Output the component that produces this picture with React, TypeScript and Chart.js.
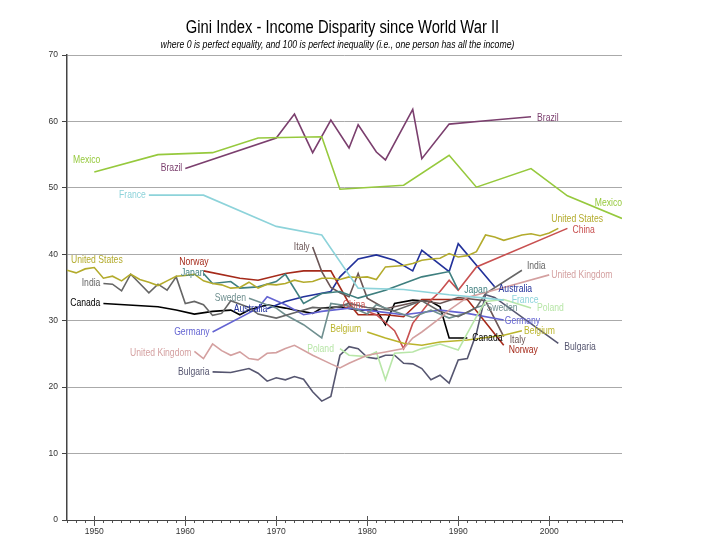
import { useEffect, useRef } from 'react';
import { Chart, registerables } from 'chart.js';

Chart.register(...registerables);

const FONT = "'Liberation Sans', Arial, sans-serif";
const NARROW = 0.82; // horizontal squeeze to imitate a narrow sans face

const TITLE = 'Gini Index - Income Disparity since World War II';
const SUBTITLE = 'where 0 is perfect equality, and 100 is perfect inequality (i.e., one person has all the income)';

const X_MIN = 1947;
const X_MAX = 2008;
const Y_TICKS = [0, 10, 20, 30, 40, 50, 60, 70];
const DECADES = [1950, 1960, 1970, 1980, 1990, 2000];

type P = [number, number];

const mexico: P[] = [[1950, 52.4], [1957, 55.0], [1963, 55.3], [1968, 57.5], [1975, 57.7], [1977, 49.8], [1984, 50.4], [1989, 54.9], [1992, 50.1], [1998, 52.9], [2002, 48.8], [2008, 45.4]];
const brazil: P[] = [[1960, 52.9], [1970, 57.5], [1972, 61.1], [1974, 55.3], [1976, 60.2], [1978, 56.0], [1979, 59.5], [1981, 55.4], [1982, 54.2], [1985, 61.8], [1986, 54.4], [1989, 59.6], [1993, 60.1], [1998, 60.7]];
const france: P[] = [[1956, 48.9], [1962, 48.9], [1970, 44.2], [1975, 42.9], [1979, 34.9], [1984, 34.7], [1989, 33.9], [1993, 33.4], [1995, 33.1]];
const unitedStates: P[] = [[1947, 37.6], [1948, 37.2], [1949, 37.8], [1950, 38.0], [1951, 36.4], [1952, 36.7], [1953, 36.0], [1954, 37.0], [1955, 36.2], [1956, 35.8], [1957, 35.3], [1958, 36.0], [1959, 36.7], [1960, 36.8], [1961, 37.0], [1962, 36.0], [1963, 35.6], [1964, 35.4], [1965, 34.9], [1966, 35.0], [1967, 35.8], [1968, 34.9], [1969, 35.5], [1970, 35.4], [1971, 35.6], [1972, 36.1], [1973, 35.8], [1974, 35.9], [1975, 36.4], [1976, 36.4], [1977, 36.2], [1978, 36.6], [1979, 36.5], [1980, 36.6], [1981, 36.2], [1982, 38.1], [1983, 38.2], [1984, 38.3], [1985, 38.6], [1986, 39.1], [1987, 39.3], [1988, 39.4], [1989, 40.1], [1990, 39.6], [1991, 39.8], [1992, 40.4], [1993, 42.9], [1994, 42.6], [1995, 42.1], [1996, 42.5], [1997, 42.9], [1998, 43.1], [1999, 42.8], [2000, 43.2], [2001, 43.9]];
const china: P[] = [[1980, 31.4], [1981, 30.9], [1983, 28.5], [1984, 25.8], [1985, 29.6], [1987, 33.1], [1988, 34.4], [1989, 36.1], [1990, 34.6], [1992, 38.1], [2002, 43.9]];
const india: P[] = [[1951, 35.6], [1952, 35.5], [1953, 34.5], [1954, 37.0], [1955, 35.6], [1956, 34.2], [1957, 35.5], [1958, 34.6], [1959, 36.6], [1960, 32.6], [1961, 32.9], [1962, 32.4], [1963, 30.8], [1964, 31.1], [1965, 33.0], [1967, 32.0], [1968, 31.0], [1970, 30.4], [1972, 31.2], [1974, 32.0], [1976, 31.8], [1978, 32.6], [1980, 32.0], [1983, 31.5], [1986, 33.0], [1988, 31.4], [1990, 30.6], [1992, 32.0], [1993, 34.1], [1997, 37.6]];
const canada: P[] = [[1951, 32.6], [1957, 32.1], [1959, 31.6], [1961, 31.0], [1963, 31.4], [1965, 31.6], [1966, 30.9], [1967, 31.6], [1969, 32.4], [1971, 31.9], [1972, 31.6], [1974, 31.1], [1975, 31.9], [1977, 32.1], [1979, 31.6], [1981, 31.6], [1982, 29.4], [1983, 32.6], [1985, 33.1], [1987, 32.9], [1988, 32.1], [1989, 27.4], [1991, 27.4]];
const japan: P[] = [[1962, 37.1], [1963, 35.6], [1965, 35.9], [1966, 34.9], [1968, 35.1], [1970, 35.9], [1971, 37.0], [1973, 32.6], [1975, 34.1], [1977, 34.4], [1979, 33.4], [1982, 34.6], [1984, 35.6], [1986, 36.6], [1989, 37.4], [1990, 34.6]];
const sweden: P[] = [[1967, 33.4], [1970, 31.9], [1971, 30.9], [1973, 29.4], [1975, 27.4], [1976, 32.6], [1978, 32.2], [1980, 31.0], [1981, 32.4], [1983, 31.4], [1985, 30.5], [1987, 31.6], [1989, 30.4], [1991, 31.2], [1992, 32.0], [1993, 32.4]];
const australia: P[] = [[1969, 31.8], [1971, 32.9], [1973, 33.6], [1976, 34.4], [1977, 36.6], [1979, 39.3], [1981, 39.9], [1983, 39.1], [1984, 38.3], [1985, 37.5], [1986, 40.6], [1989, 37.4], [1990, 41.6], [1994, 35.1]];
const germany: P[] = [[1963, 28.3], [1968, 31.9], [1969, 33.6], [1971, 32.4], [1973, 30.9], [1975, 31.4], [1978, 31.9], [1981, 31.4], [1984, 30.9], [1988, 31.6], [1991, 31.1], [1995, 30.1]];
const unitedKingdom: P[] = [[1961, 25.4], [1962, 24.3], [1963, 26.5], [1964, 25.5], [1965, 24.8], [1966, 25.3], [1967, 24.3], [1968, 24.1], [1969, 25.1], [1970, 25.2], [1971, 25.8], [1972, 26.3], [1974, 24.8], [1976, 23.5], [1977, 22.9], [1978, 23.6], [1980, 24.8], [1982, 25.3], [1984, 25.8], [1985, 27.4], [1986, 28.3], [1988, 30.4], [1989, 31.6], [1991, 33.5], [1995, 35.0], [2000, 36.9]];
const bulgaria: P[] = [[1963, 22.3], [1965, 22.2], [1967, 22.8], [1968, 22.1], [1969, 20.9], [1970, 21.4], [1971, 21.1], [1972, 21.6], [1973, 21.2], [1974, 19.3], [1975, 17.9], [1976, 18.6], [1977, 24.8], [1978, 26.1], [1979, 25.8], [1980, 24.5], [1981, 24.3], [1982, 24.8], [1983, 24.8], [1984, 23.6], [1985, 23.5], [1986, 22.8], [1987, 21.1], [1988, 21.8], [1989, 20.6], [1990, 24.1], [1991, 24.3], [1992, 28.1], [1993, 33.9], [1994, 33.5], [2001, 26.6]];
const poland: P[] = [[1977, 25.8], [1978, 24.8], [1980, 24.6], [1981, 25.3], [1982, 21.1], [1983, 25.1], [1985, 25.3], [1986, 25.8], [1988, 26.5], [1990, 25.6], [1992, 30.6], [1993, 32.9], [1995, 33.2], [1998, 31.9]];
const belgium: P[] = [[1980, 28.3], [1982, 27.4], [1984, 26.6], [1986, 26.3], [1988, 26.8], [1991, 27.1], [1995, 27.8], [1997, 28.5]];
const italy: P[] = [[1974, 41.1], [1975, 37.4], [1976, 35.0], [1977, 34.2], [1978, 33.6], [1979, 37.1], [1980, 33.4], [1982, 31.8], [1984, 32.4], [1986, 33.0], [1988, 32.6], [1990, 33.5], [1993, 33.0], [1995, 27.6]];
const norway: P[] = [[1962, 37.5], [1966, 36.4], [1968, 36.1], [1971, 37.1], [1973, 37.5], [1976, 37.5], [1978, 32.6], [1979, 30.9], [1982, 30.9], [1984, 30.6], [1986, 33.2], [1991, 33.2], [1995, 26.3]];

const SERIES: { name: string; data: P[]; color: string }[] = [
  { name: 'Mexico', data: mexico, color: '#96c93d' },
  { name: 'Brazil', data: brazil, color: '#7b3f6e' },
  { name: 'France', data: france, color: '#8dd3da' },
  { name: 'United Kingdom', data: unitedKingdom, color: '#d4a0a0' },
  { name: 'Poland', data: poland, color: '#b8e6a8' },
  { name: 'Bulgaria', data: bulgaria, color: '#565670' },
  { name: 'Belgium', data: belgium, color: '#bab42c' },
  { name: 'United States', data: unitedStates, color: '#b3ab2c' },
  { name: 'India', data: india, color: '#666666' },
  { name: 'Sweden', data: sweden, color: '#6f8f8f' },
  { name: 'Japan', data: japan, color: '#3f7f7f' },
  { name: 'Germany', data: germany, color: '#6464d2' },
  { name: 'Italy', data: italy, color: '#6b5656' },
  { name: 'China', data: china, color: '#c85050' },
  { name: 'Norway', data: norway, color: '#a52a1a' },
  { name: 'Australia', data: australia, color: '#22319a' },
  { name: 'Canada', data: canada, color: '#000000' },
];

// label placement: which end of the line, text alignment, pixel offset
const LABELS: { name: string; at: 'start' | 'end'; align: 'left' | 'right'; dx: number; dy: number }[] = [
  { name: 'Mexico', at: 'start', align: 'right', dx: 6, dy: -12 },
  { name: 'Mexico', at: 'end', align: 'right', dx: 0, dy: -15 },
  { name: 'Brazil', at: 'start', align: 'right', dx: -3, dy: 0 },
  { name: 'Brazil', at: 'end', align: 'left', dx: 6, dy: 1 },
  { name: 'France', at: 'start', align: 'right', dx: -3, dy: 0 },
  { name: 'France', at: 'end', align: 'left', dx: 8, dy: 0 },
  { name: 'United States', at: 'start', align: 'left', dx: 4, dy: -10 },
  { name: 'United States', at: 'end', align: 'left', dx: -7, dy: -9 },
  { name: 'China', at: 'start', align: 'right', dx: -2, dy: -6 },
  { name: 'China', at: 'end', align: 'left', dx: 5, dy: 2 },
  { name: 'India', at: 'start', align: 'right', dx: -3, dy: 0 },
  { name: 'India', at: 'end', align: 'left', dx: 5, dy: -4 },
  { name: 'Canada', at: 'start', align: 'right', dx: -3, dy: 0 },
  { name: 'Canada', at: 'end', align: 'left', dx: 5, dy: 0 },
  { name: 'Japan', at: 'start', align: 'right', dx: 1, dy: 0 },
  { name: 'Japan', at: 'end', align: 'left', dx: 6, dy: 0 },
  { name: 'Sweden', at: 'start', align: 'right', dx: -3, dy: 0 },
  { name: 'Sweden', at: 'end', align: 'left', dx: 1, dy: 3 },
  { name: 'Australia', at: 'start', align: 'right', dx: 0, dy: 0 },
  { name: 'Australia', at: 'end', align: 'left', dx: 4, dy: 2 },
  { name: 'Germany', at: 'start', align: 'right', dx: -3, dy: 0 },
  { name: 'Germany', at: 'end', align: 'left', dx: 1, dy: 1 },
  { name: 'United Kingdom', at: 'start', align: 'right', dx: -3, dy: 2 },
  { name: 'United Kingdom', at: 'end', align: 'left', dx: 2, dy: 0 },
  { name: 'Bulgaria', at: 'start', align: 'right', dx: -3, dy: 0 },
  { name: 'Bulgaria', at: 'end', align: 'left', dx: 6, dy: 4 },
  { name: 'Poland', at: 'start', align: 'right', dx: -6, dy: 0 },
  { name: 'Poland', at: 'end', align: 'left', dx: 6, dy: 0 },
  { name: 'Belgium', at: 'start', align: 'right', dx: -6, dy: -3 },
  { name: 'Belgium', at: 'end', align: 'left', dx: 2, dy: 0 },
  { name: 'Italy', at: 'start', align: 'right', dx: -3, dy: 0 },
  { name: 'Italy', at: 'end', align: 'left', dx: 6, dy: 3 },
  { name: 'Norway', at: 'start', align: 'right', dx: 5, dy: -9 },
  { name: 'Norway', at: 'end', align: 'left', dx: 5, dy: 5 },
];

function narrowText(ctx: CanvasRenderingContext2D, text: string, x: number, y: number) {
  ctx.save();
  ctx.translate(x, y);
  ctx.scale(NARROW, 1);
  ctx.fillText(text, 0, 0);
  ctx.restore();
}

const headings = {
  id: 'headings',
  afterDraw(chart: any) {
    const ctx = chart.ctx as CanvasRenderingContext2D;
    const { left, right } = chart.chartArea;
    const cx = (left + right) / 2 - 2;
    ctx.save();
    ctx.fillStyle = '#000';
    ctx.textAlign = 'center';
    ctx.textBaseline = 'alphabetic';
    ctx.font = `18px ${FONT}`;
    narrowText(ctx, TITLE, cx, 33);
    ctx.font = `italic 10.6px ${FONT}`;
    narrowText(ctx, SUBTITLE, cx - 5, 48);
    ctx.restore();
  },
};

const seriesLabels = {
  id: 'seriesLabels',
  afterDatasetsDraw(chart: any) {
    const ctx = chart.ctx as CanvasRenderingContext2D;
    ctx.save();
    ctx.font = `10.5px ${FONT}`;
    ctx.textBaseline = 'middle';
    for (const l of LABELS) {
      const idx = SERIES.findIndex((s) => s.name === l.name);
      if (idx < 0) continue;
      const pts = chart.getDatasetMeta(idx).data;
      if (!pts.length) continue;
      const p = l.at === 'start' ? pts[0] : pts[pts.length - 1];
      ctx.fillStyle = SERIES[idx].color;
      ctx.textAlign = l.align;
      narrowText(ctx, l.name, p.x + l.dx, p.y + l.dy);
    }
    ctx.restore();
  },
};

const majorTicks = {
  id: 'majorTicks',
  afterDraw(chart: any) {
    const ctx = chart.ctx as CanvasRenderingContext2D;
    const xs = chart.scales.x;
    const bottom = chart.chartArea.bottom;
    ctx.save();
    ctx.strokeStyle = '#555';
    ctx.lineWidth = 1;
    for (const d of DECADES) {
      const x = Math.round(xs.getPixelForValue(d)) + 0.5;
      ctx.beginPath();
      ctx.moveTo(x, bottom - 4);
      ctx.lineTo(x, bottom + 6);
      ctx.stroke();
    }
    ctx.restore();
  },
};

export default function App() {
  const ref = useRef<HTMLCanvasElement | null>(null);
  useEffect(() => {
    if (!ref.current) return;
    const chart = new Chart(ref.current, {
      type: 'line',
      data: {
        datasets: SERIES.map((s) => ({
          label: s.name,
          data: s.data.map(([x, y]) => ({ x, y })),
          borderColor: s.color,
          backgroundColor: s.color,
          borderWidth: 1.6,
          pointRadius: 0,
          tension: 0,
          fill: false,
        })),
      },
      options: {
        responsive: false,
        animation: false,
        events: [],
        layout: { padding: { left: 0, right: 98, top: 55, bottom: 0 } },
        plugins: {
          legend: { display: false },
          tooltip: { enabled: false },
          title: { display: false },
        },
        scales: {
          x: {
            type: 'linear',
            min: X_MIN,
            max: X_MAX,
            afterFit: (s: any) => { s.height = 20; },
            ticks: {
              stepSize: 1,
              autoSkip: false,
              maxRotation: 0,
              callback: (v: any) => (DECADES.includes(Number(v)) ? String(v) : ''),
              color: '#333',
              font: { family: FONT, size: 8.5 },
              padding: 4,
            },
            grid: { drawOnChartArea: false, drawTicks: true, tickLength: 3, color: '#555' },
            border: { color: '#444', width: 1 },
          },
          y: {
            min: 0,
            max: 70,
            afterFit: (s: any) => { s.width = 67; },
            afterBuildTicks: (s: any) => { s.ticks = Y_TICKS.map((v) => ({ value: v })); },
            ticks: { color: '#333', font: { family: FONT, size: 8.5 }, padding: 4 },
            grid: { color: '#aaaaaa', tickLength: 5, tickColor: '#444', lineWidth: 1 },
            border: { color: '#444', width: 1.5 },
          },
        },
      },
      plugins: [seriesLabels, majorTicks, headings],
    });
    return () => chart.destroy();
  }, []);
  return (
    <div style={{ position: 'fixed', left: 0, top: 0, width: 720, height: 540, background: '#fff' }}>
      <canvas ref={ref} width={720} height={540} style={{ display: 'block' }} />
    </div>
  );
}
